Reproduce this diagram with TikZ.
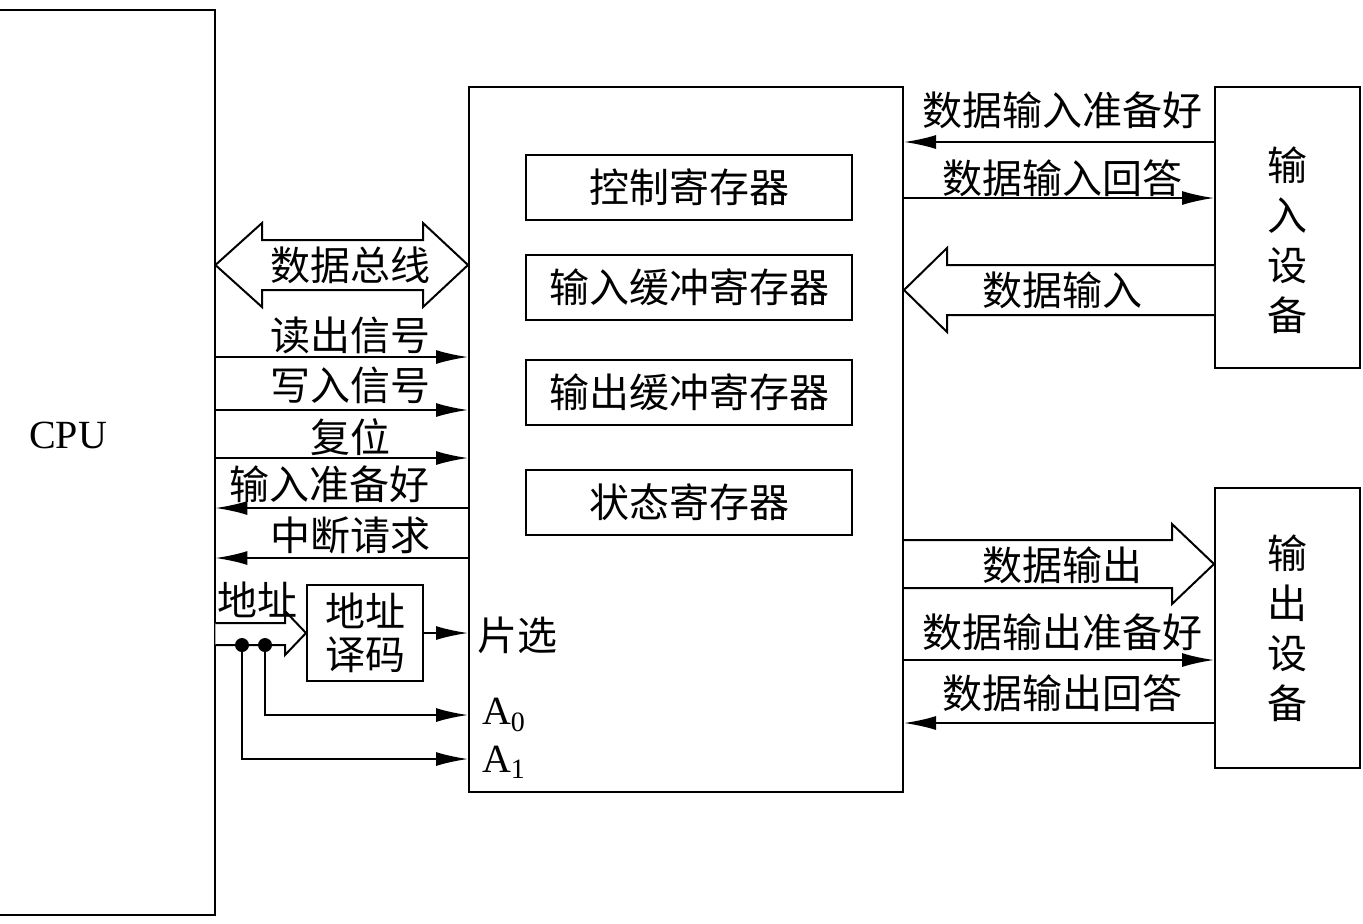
\documentclass[tikz,border=0pt]{standalone}
\usepackage{fontspec}
\setmainfont{Liberation Serif}
\newfontfamily\cjk{Noto Sans CJK SC}
\usetikzlibrary{arrows.meta, positioning}

\begin{document}
\begin{tikzpicture}[x=0.5pt, y=-0.5pt, >={Latex[length=16pt,width=7pt]}]

\tikzset{
    box/.style={
        draw, line width=1pt, inner sep=0pt,
        font=\cjk\fontsize{20pt}{25pt}\selectfont, align=center
    },
    reg/.style={
        box, minimum width=163pt, minimum height=32.5pt
    },
    dev/.style={
        box, minimum width=72.5pt, minimum height=140.5pt
    },
    sig/.style={
        draw, line width=1pt, ->
    },
    wide/.style={
        draw, line width=1pt, fill=white
    },
    lbl/.style={
        font=\cjk\fontsize{20pt}{22pt}\selectfont, inner sep=0pt
    },
    dot/.style={
        circle, fill=black, inner sep=0pt, minimum size=7pt
    }
}

\useasboundingbox (0,0) rectangle (1363,923);

% --- CPU (open on the left) ---
\node[minimum width=107.5pt, minimum height=452.5pt, inner sep=0pt] (cpu) at (107.5,462.5) {};
\draw[line width=1pt] (cpu.north west) -- (cpu.north east) -- (cpu.south east) -- (cpu.south west);
\node[font=\fontsize{20pt}{20pt}\selectfont] (cpulbl) at (68,435) {CPU};

% --- Interface and its registers ---
\node[box, minimum width=217pt, minimum height=352.5pt] (iface) at (686,439.5) {};
\node[reg] (ctrl) at (689,187.5) {控制寄存器};
\node[reg] (inbuf) at (689,287.5) {输入缓冲寄存器};
\node[reg] (outbuf) at (689,392.5) {输出缓冲寄存器};
\node[reg] (stat) at (689,502.5) {状态寄存器};

% --- Devices ---
\node[dev] (indev) at (1287.5,227.5) {};
\node[box, draw=none] (indevl) at (1287.5,240) {输\\入\\设\\备};
\node[dev, minimum height=140pt] (outdev) at (1287.5,628) {输\\出\\设\\备};

% --- Address decoder ---
\node[box, minimum width=58pt, minimum height=48pt, font=\cjk\fontsize{20pt}{21.5pt}\selectfont] (dec) at (365,633) {地址\\译码};

% --- CPU side bus and signals ---
\draw[wide] (cpu.east |- 0,265) -- (262,223) -- (262,240) -- (423,240) -- (423,223) -- (iface.west |- 0,265)
    -- (423,307) -- (423,290) -- (262,290) -- (262,307) -- cycle;
\node[lbl] (busl) at (350,265) {数据总线};

\draw[sig] (cpu.east |- 0,357) -- (iface.west |- 0,357);
\node[lbl] (rdl) at (350,335) {读出信号};
\draw[sig] (cpu.east |- 0,410) -- (iface.west |- 0,410);
\node[lbl] (wrl) at (350,385) {写入信号};
\draw[sig] (cpu.east |- 0,458) -- (iface.west |- 0,458);
\node[lbl] (rstl) at (350,437) {复位};
\draw[sig] (iface.west |- 0,508) -- (cpu.east |- 0,508);
\node[lbl] (rdyl) at (329,484) {输入准备好};
\draw[sig] (iface.west |- 0,558) -- (cpu.east |- 0,558);
\node[lbl] (irql) at (350,535) {中断请求};

% --- Address lines ---
\draw[wide] (cpu.east |- 0,623) -- (285,623) -- (285,611) -- (dec.west) -- (285,655) -- (285,645) -- (cpu.east |- 0,645);
\node[lbl] (addrl) at (257,600) {地址};
\node[dot] (d1) at (242,645) {};
\node[dot] (d0) at (265,645) {};
\draw[sig] (dec.east) -- (iface.west |- dec.east);
\node[lbl] (csl) at (517,635) {片选};
\draw[sig] (d0.center) |- (iface.west |- 0,715);
\draw[sig] (d1.center) |- (iface.west |- 0,759);
\node[font=\fontsize{20pt}{20pt}\selectfont] (a0) at (504,715) {A\textsubscript{0}};
\node[font=\fontsize{20pt}{20pt}\selectfont] (a1) at (504,762) {A\textsubscript{1}};

% --- Input device side ---
\draw[sig] (indev.west |- 0,142) -- (iface.east |- 0,142);
\node[lbl] (inrdyl) at (1062,110) {数据输入准备好};
\draw[sig] (iface.east |- 0,198) -- (indev.west |- 0,198);
\node[lbl] (inackl) at (1062,178) {数据输入回答};
\draw[wide] (indev.west |- 0,265) -- (947,265) -- (947,248) -- (iface.east |- 0,290) -- (947,332) -- (947,315) -- (indev.west |- 0,315);
\node[lbl] (inl) at (1062,290) {数据输入};

% --- Output device side ---
\draw[wide] (iface.east |- 0,540) -- (1172,540) -- (1172,524) -- (outdev.west |- 0,564) -- (1172,604) -- (1172,588) -- (iface.east |- 0,588);
\node[lbl] (outl) at (1062,565) {数据输出};
\draw[sig] (iface.east |- 0,660) -- (outdev.west |- 0,660);
\node[lbl] (outrdyl) at (1062,632) {数据输出准备好};
\draw[sig] (outdev.west |- 0,723) -- (iface.east |- 0,723);
\node[lbl] (outackl) at (1062,693) {数据输出回答};

\end{tikzpicture}
\end{document}
